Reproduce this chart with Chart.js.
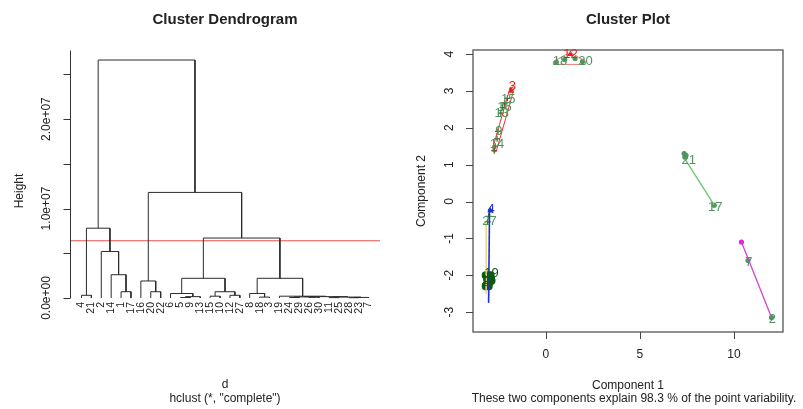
<!DOCTYPE html>
<html>
<head>
<meta charset="utf-8">
<script src="https://cdn.jsdelivr.net/npm/chart.js@4.4.0/dist/chart.umd.min.js"></script>
<style>
html, body { margin: 0; padding: 0; background: #fff; }
#wrap { position: relative; width: 803px; height: 409px; overflow: hidden; }
canvas { position: absolute; top: 0; }
#dendChart { left: 0; }
#clusChart { left: 401px; }
</style>
</head>
<body>
<div id="wrap">
  <canvas id="dendChart"></canvas>
  <canvas id="clusChart"></canvas>
</div>
<script>
// ---- Dendrogram data (leaf positions in plot order) ----
const leafLabels = ['4', '21', '2', '14', '1', '17', '16', '20', '22', '6', '5', '9', '13', '15', '10',
                    '12', '27', '8', '18', '3', '19', '24', '29', '26', '30', '11', '25', '28', '23', '7'];
// merge matrix like hclust: negative = leaf position, positive = earlier merge
const mergeLeft   = [-5, -4, -3, -1, 4, -8, -7, -11, 8, -10, -14, -16, 11, 10, -19, -18, -22, -24, 17, -26, -28, 21, 20, 19, -21, 16, 14, 7, 5];
const mergeRight  = [-6, 1, 2, -2, 3, -9, 6, -12, -13, 9, -15, -17, 12, 13, -20, 15, -23, -25, 18, -27, -29, -30, 22, 23, 24, 25, 26, 27, 28];
const mergeHeight = [7.0e5, 2.6e6, 5.2e6, 3.0e5, 7.8e6, 7.0e5, 1.9e6, 5.0e4, 1.5e5, 5.0e5, 2.0e5, 3.0e5, 7.0e5, 2.2e6,
                     1.0e5, 5.0e5, 5.0e4, 8.0e4, 1.2e5, 4.0e4, 3.0e4, 6.0e4, 1.0e5, 1.5e5, 2.0e5, 2.2e6, 6.7e6, 1.18e7, 2.66e7];
const cutHeight = 6.4e6;
const heightTicks = [0, 5e6, 1e7, 1.5e7, 2e7, 2.5e7];
const heightTickLabels = ['0.0e+00', '', '1.0e+07', '', '2.0e+07', ''];

// ---- Cluster plot data ----
const comp1Ticks = [0, 5, 10];
const comp2Ticks = [-3, -2, -1, 0, 1, 2, 3, 4];
// cluster outlines / connecting lines (component 1, component 2)
const redOutlineX = [-2.8, -2.65, -1.75, -1.75, -1.9, -2.8, -2.8];
const redOutlineY = [1.35, 1.35, 2.95, 3.1, 3.1, 1.5, 1.35];
const topOutlineX = [0.4, 2.1, 2.1, 1.3, 0.4, 0.4];
const topOutlineY = [3.72, 3.72, 3.8, 4.05, 3.8, 3.72];
const blueLineX = [-3.0, -3.05];
const blueLineY = [-0.2, -2.75];
const yellowLineX = [-3.18, -3.18];
const yellowLineY = [-0.55, -2.5];
const greenLineX = [7.4, 8.95];
const greenLineY = [1.15, -0.1];
const magentaLineX = [10.4, 11.98];
const magentaLineY = [-1.1, -3.12];
// observations
const crossPtsX = [-2.75, -2.7, -2.6, -2.55, -2.4, -2.3, -2.2, -2.05, -3.05, -3.1];
const crossPtsY = [1.38, 1.5, 1.7, 1.9, 2.4, 2.55, 2.65, 2.8, -0.4, -0.55];
const circlePtsX = [0.55, 1.0, 1.55, 1.95, 7.35, 7.4, 7.45, 8.95, 10.75, 12.0];
const circlePtsY = [3.78, 3.85, 3.88, 3.8, 1.3, 1.2, 1.25, -0.1, -1.6, -3.15];
const darkPtsX = [-3.2, -3.1, -3.0, -3.15, -2.95, -3.05, -3.2, -2.9];
const darkPtsY = [-2.0, -2.1, -2.2, -2.25, -2.0, -2.3, -2.3, -2.15];
const redPtsX = [-1.85, 1.3];
const redPtsY = [3.0, 4.0];
const bluePtsX = [-2.95];
const bluePtsY = [-0.25];
const magentaPtsX = [10.4];
const magentaPtsY = [-1.1];
// point labels
const obsLabels = ['3', '15', '16', '13', '9', '14', '18', '12', '20', '4', '27', '19', '10', '8', '21', '17', '7', '2'];
const obsLabelX = [-1.78, -2.0, -2.2, -2.35, -2.5, -2.6, 0.75, 1.3, 2.1, -2.92, -3.0, -2.9, -3.05, -3.2, 7.6, 9.0, 10.8, 12.05];
const obsLabelY = [3.12, 2.78, 2.55, 2.4, 1.9, 1.55, 3.8, 3.98, 3.8, -0.22, -0.55, -1.95, -2.15, -2.2, 1.12, -0.15, -1.65, -3.2];
const obsLabelGroup = [1, 0, 0, 0, 0, 0, 0, 1, 0, 2, 0, 3, 3, 3, 0, 0, 0, 0];

const FONT = '"Liberation Sans", Arial, sans-serif';
const groupColors = ['#4f9460', '#e0241c', '#2030d0', '#0c5c14'];

// ---------- Dendrogram ----------
const dendCanvas = document.getElementById('dendChart');
dendCanvas.width = 401;
dendCanvas.height = 409;

const nodeX = [];
const nodeH = [];
const dendDatasets = [];
function childPos(c) {
    return c < 0 ? [-c, 0] : [nodeX[c - 1], nodeH[c - 1]];
}
mergeLeft.forEach((l, i) => {
    const [xl, hl] = childPos(l);
    const [xr, hr] = childPos(mergeRight[i]);
    const h = mergeHeight[i];
    nodeX.push((xl + xr) / 2);
    nodeH.push(h);
    dendDatasets.push({
        data: [{x: xl, y: hl}, {x: xl, y: h}, {x: xr, y: h}, {x: xr, y: hr}],
        showLine: true, borderColor: '#2b2b2b', borderWidth: 1, pointRadius: 0
    });
});
const nLeaves = leafLabels.length;
const xPad = 0.04 * (nLeaves - 1);
const yMaxH = Math.max(...mergeHeight);
dendDatasets.push({
    data: [{x: 1 - xPad, y: cutHeight}, {x: nLeaves + xPad, y: cutHeight}],
    showLine: true, borderColor: '#e8504a', borderWidth: 1.2, pointRadius: 0
});

const dendDecor = {
    id: 'dendDecor',
    afterDraw(chart) {
        const {ctx, chartArea: a} = chart;
        const xs = chart.scales.x, ys = chart.scales.y;
        ctx.save();
        ctx.fillStyle = '#222';
        ctx.strokeStyle = '#333';
        ctx.lineWidth = 1;
        const cx = (a.left + a.right) / 2;
        ctx.textAlign = 'center';
        ctx.textBaseline = 'middle';
        ctx.font = `bold 15px ${FONT}`;
        ctx.fillText('Cluster Dendrogram', cx, 20);

        // y axis
        const ax = Math.round(a.left) + 0.5;
        ctx.beginPath();
        ctx.moveTo(ax, ys.getPixelForValue(0));
        ctx.lineTo(ax, a.top);
        heightTicks.forEach(v => {
            const py = Math.round(ys.getPixelForValue(v)) + 0.5;
            ctx.moveTo(ax, py);
            ctx.lineTo(ax - 7, py);
        });
        ctx.stroke();
        ctx.font = `12px ${FONT}`;
        heightTicks.forEach((v, i) => {
            if (!heightTickLabels[i]) return;
            ctx.save();
            ctx.translate(47, ys.getPixelForValue(v));
            ctx.rotate(-Math.PI / 2);
            ctx.fillText(heightTickLabels[i], 0, 0);
            ctx.restore();
        });
        ctx.save();
        ctx.translate(20, 191);
        ctx.rotate(-Math.PI / 2);
        ctx.fillText('Height', 0, 0);
        ctx.restore();

        // leaf labels
        ctx.font = `10.5px ${FONT}`;
        ctx.textAlign = 'right';
        leafLabels.forEach((lab, i) => {
            ctx.save();
            ctx.translate(xs.getPixelForValue(i + 1), ys.getPixelForValue(0) + 4);
            ctx.rotate(-Math.PI / 2);
            ctx.fillText(lab, 0, 0);
            ctx.restore();
        });

        ctx.textAlign = 'center';
        ctx.font = `12px ${FONT}`;
        ctx.fillText('d', cx, 385);
        ctx.fillText('hclust (*, "complete")', cx, 399);
        ctx.restore();
    }
};

new Chart(dendCanvas.getContext('2d'), {
    type: 'scatter',
    data: {datasets: dendDatasets},
    options: {
        responsive: false,
        animation: false,
        layout: {padding: {left: 70, right: 21, top: 50.5, bottom: 101.5}},
        scales: {
            x: {type: 'linear', display: false, min: 1 - xPad, max: nLeaves + xPad},
            y: {type: 'linear', display: false, min: -0.04 * yMaxH, max: 1.04 * yMaxH}
        },
        plugins: {legend: {display: false}, tooltip: {enabled: false}}
    },
    plugins: [dendDecor]
});

// ---------- Cluster plot ----------
const clusCanvas = document.getElementById('clusChart');
clusCanvas.width = 402;
clusCanvas.height = 409;

function pts(xs, ys) {
    return xs.map((v, i) => ({x: v, y: ys[i]}));
}
function lineSet(xs, ys, color, width) {
    return {data: pts(xs, ys), showLine: true, borderColor: color, borderWidth: width, pointRadius: 0};
}
function pointSet(xs, ys, color, style, r) {
    return {data: pts(xs, ys), showLine: false, pointStyle: style, pointRadius: r,
            borderColor: color, backgroundColor: color, pointBorderWidth: 1.2};
}

const clusDatasets = [
    lineSet(yellowLineX, yellowLineY, '#ecd77a', 1.5),
    lineSet(redOutlineX, redOutlineY, '#e23a32', 1),
    lineSet(topOutlineX, topOutlineY, '#e87878', 1),
    lineSet(blueLineX, blueLineY, '#1f2fd6', 1.6),
    lineSet(greenLineX, greenLineY, '#6cc46c', 1.3),
    lineSet(magentaLineX, magentaLineY, '#d046d0', 1.3),
    pointSet(crossPtsX, crossPtsY, '#2f6f2f', 'cross', 3),
    pointSet(circlePtsX, circlePtsY, '#4f9460', 'circle', 2),
    pointSet(darkPtsX, darkPtsY, '#0d5a12', 'circle', 3.5),
    pointSet(redPtsX, redPtsY, '#e0241c', 'triangle', 2.5),
    pointSet(bluePtsX, bluePtsY, '#1f2fd6', 'triangle', 2.5),
    pointSet(magentaPtsX, magentaPtsY, '#e020e0', 'circle', 2)
];

const clusDecor = {
    id: 'clusDecor',
    afterDraw(chart) {
        const {ctx, chartArea: a} = chart;
        const xs = chart.scales.x, ys = chart.scales.y;
        ctx.save();
        ctx.fillStyle = '#222';
        ctx.strokeStyle = '#555';
        ctx.lineWidth = 1.3;
        ctx.strokeRect(a.left, a.top, a.right - a.left, a.bottom - a.top);

        ctx.strokeStyle = '#444';
        ctx.lineWidth = 1;
        ctx.beginPath();
        comp1Ticks.forEach(v => {
            const px = Math.round(xs.getPixelForValue(v)) + 0.5;
            ctx.moveTo(px, a.bottom);
            ctx.lineTo(px, a.bottom + 7);
        });
        comp2Ticks.forEach(v => {
            const py = Math.round(ys.getPixelForValue(v)) + 0.5;
            ctx.moveTo(a.left, py);
            ctx.lineTo(a.left - 7, py);
        });
        ctx.stroke();

        const cx = (a.left + a.right) / 2;
        ctx.textAlign = 'center';
        ctx.textBaseline = 'middle';
        ctx.font = `bold 15px ${FONT}`;
        ctx.fillText('Cluster Plot', cx, 20);
        ctx.font = `12px ${FONT}`;
        comp1Ticks.forEach(v => ctx.fillText(String(v), xs.getPixelForValue(v), 355));
        comp2Ticks.forEach(v => {
            ctx.save();
            ctx.translate(49, ys.getPixelForValue(v));
            ctx.rotate(-Math.PI / 2);
            ctx.fillText(String(v), 0, 0);
            ctx.restore();
        });
        ctx.save();
        ctx.translate(21, (a.top + a.bottom) / 2);
        ctx.rotate(-Math.PI / 2);
        ctx.fillText('Component 2', 0, 0);
        ctx.restore();
        ctx.fillText('Component 1', cx, 386);
        ctx.fillText('These two components explain 98.3 % of the point variability.', cx + 6, 399);

        // observation labels
        ctx.font = `13px ${FONT}`;
        obsLabels.forEach((lab, i) => {
            ctx.fillStyle = groupColors[obsLabelGroup[i]];
            ctx.fillText(lab, xs.getPixelForValue(obsLabelX[i]), ys.getPixelForValue(obsLabelY[i]));
        });
        ctx.restore();
    }
};

new Chart(clusCanvas.getContext('2d'), {
    type: 'scatter',
    data: {datasets: clusDatasets},
    options: {
        responsive: false,
        animation: false,
        layout: {padding: {left: 72, right: 20, top: 50, bottom: 77}},
        scales: {
            x: {type: 'linear', display: false, min: -3.88, max: 12.61},
            y: {type: 'linear', display: false, min: -3.54, max: 4.11}
        },
        plugins: {legend: {display: false}, tooltip: {enabled: false}}
    },
    plugins: [clusDecor]
});
</script>
</body>
</html>
